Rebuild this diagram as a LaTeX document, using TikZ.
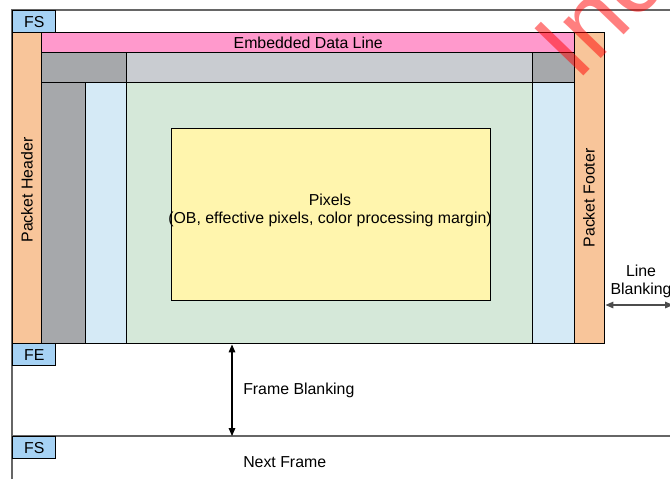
\documentclass[tikz,border=0pt]{standalone}
\usepackage{fontspec}
\setmainfont{Liberation Sans}
\usetikzlibrary{arrows.meta}

\definecolor{fsblue}{HTML}{A6D2F4}
\definecolor{pktorange}{HTML}{F8C59A}
\definecolor{edpink}{HTML}{FF99CC}
\definecolor{dkgray}{HTML}{A6A8AB}
\definecolor{ltgray}{HTML}{C9CCD1}
\definecolor{colblue}{HTML}{D5EAF6}
\definecolor{pxgreen}{HTML}{D5E8D9}
\definecolor{pxyellow}{HTML}{FFF5AD}

\newcommand{\lblfont}{\fontsize{11.9pt}{13.5pt}\selectfont}
% region: name, x1, y1, x2, y2, fill, text
\newcommand{\region}[7]{%
  \node[blk, fill=#6, minimum width={(#4-#2)*0.75pt},
        minimum height={(#5-#3)*0.75pt}] (#1) at (#2,#3) {};
  \node[font=\lblfont] at (#1.center) {#7};}

\tikzset{
  blk/.style={draw=black, line width=1.1pt, inner sep=0pt, anchor=north west},
  frameline/.style={draw=black!60, line width=0.9pt},
  blank/.style={draw=black, line width=0.8pt, {Triangle[length=6pt,width=5pt]}-{Triangle[length=6pt,width=5pt]}},
  lbl/.style={font=\lblfont, inner sep=0pt},
}

\begin{document}
\begin{tikzpicture}[x=0.75pt, y=-0.75pt]
  \clip (0,0) rectangle (670,479);

  % frame outlines
  \draw[frameline] (12,479) -- (12,10) -- (670,10);
  \draw[frameline] (12,436) -- (670,436);

  % current frame
  \region{fs1}{12}{10}{55}{32}{fsblue}{FS}
  \region{hdr}{12}{32}{41}{343}{pktorange}{}
  \region{ftr}{574}{32}{604}{343}{pktorange}{}
  \region{emb}{41}{32}{574}{52}{edpink}{Embedded Data Line}
  \region{tl}{41}{52}{126}{82}{dkgray}{}
  \region{tm}{126}{52}{532}{82}{ltgray}{}
  \region{tr}{532}{52}{574}{82}{dkgray}{}
  \region{lcol}{41}{82}{85}{343}{dkgray}{}
  \region{lblu}{85}{82}{126}{343}{colblue}{}
  \region{grn}{126}{82}{532}{343}{pxgreen}{}
  \region{rblu}{532}{82}{574}{343}{colblue}{}
  \region{pix}{171}{128}{490}{300}{pxyellow}{}
  \region{fe}{12}{343}{55}{365}{fsblue}{FE}

  % next frame
  \region{fs2}{12}{436}{55}{458}{fsblue}{FS}

  % labels
  \node[lbl, align=center] (pixtxt) at (330,210) {Pixels\\(OB, effective pixels, color processing margin)};
  \node[lbl, rotate=90] (hdrtxt) at (27,190) {Packet Header};
  \node[lbl, rotate=90] (ftrtxt) at (589,198) {Packet Footer};
  \node[lbl, anchor=west] (fbtxt) at (243,390) {Frame Blanking};
  \node[lbl, anchor=west] (nftxt) at (243,462) {Next Frame};
  \node[lbl, align=center] (lbtxt) at (641,281) {Line\\Blanking};

  % blanking arrows
  \coordinate (fbx) at (232,0);
  \coordinate (lbend) at (673,305);
  \draw[blank] (fbx |- grn.south) -- (fbx |- fs2.north);
  \draw[blank, draw=black!70] (ftr.east |- lbend) -- (lbend);

  % watermark
  \node[text=red, text opacity=0.5, rotate=46, anchor=base west, inner sep=0pt,
        font=\fontsize{74pt}{74pt}\selectfont] (wmark) at (577,83) {Inc};
\end{tikzpicture}
\end{document}
